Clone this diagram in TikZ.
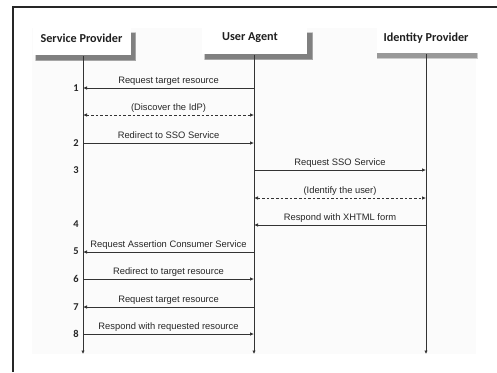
\documentclass[tikz,border=0pt]{standalone}
\usepackage{fontspec}
\setmainfont{Liberation Sans}
\newfontfamily\hdrfont{Carlito}
\usetikzlibrary{arrows.meta}
\begin{document}
\begin{tikzpicture}[x=1bp,y=-1bp,
  tip/.tip={Latex[length=4bp,width=3.6bp]},
  msg/.style={draw=black!80, line width=0.8bp, -tip},
  both/.style={draw=black!80, line width=0.8bp, dash pattern=on 2.6bp off 2bp, tip-tip},
  lifeline/.style={draw=black!80, line width=1bp, -{Latex[length=3.5bp,width=3.5bp]}},
  lbl/.style={font=\fontsize{9.4}{11}\selectfont, text=black!85, anchor=base, inner sep=0pt, yshift=5bp},
  num/.style={font=\hdrfont\bfseries\fontsize{10.5}{12}\selectfont, text=black!85, inner sep=0pt},
  htext/.style={font=\hdrfont\bfseries\fontsize{12.2}{14}\selectfont, text=black!88, inner sep=0pt},
]
\useasboundingbox (0,0) rectangle (497,372);
\fill[white] (0,0) rectangle (497,372);
% light page area
\fill[black!1.5] (32,28) rectangle (476,354);
% frame
\draw[black!85, line width=1.6bp] (13,372) -- (13,7) -- (497,7);

% header boxes with soft shadows
\fill[black!20] (35,32) rectangle (136,61);
\fill[black!35] (35.5,32.5) rectangle (135.5,60.5);
\fill[black!50] (36,33) rectangle (134.5,59.5);
\fill[white] (33,28) rectangle (131,55);

\fill[black!20] (204,32) rectangle (313,60);
\fill[black!35] (204.5,32.5) rectangle (312.5,59.5);
\fill[black!50] (205,33) rectangle (311.5,58.5);
\fill[white] (202,28) rectangle (307,54);

\fill[black!20] (377,52.5) rectangle (478,58.5);
\fill[black!40] (377,53) rectangle (477,58);
\fill[white] (377,28) rectangle (477,53);

\node[htext] (sp) at (81.5,38) {Service Provider};
\node[htext] (ua) at (250,38) {User Agent};
\node[htext] (idp) at (426,38) {Identity Provider};

% lifelines
\coordinate (sptop) at (83,56);  \coordinate (spbot) at (83,354);
\coordinate (uatop) at (254,55); \coordinate (uabot) at (254,354);
\coordinate (idtop) at (426,54); \coordinate (idbot) at (426,354);
\draw[lifeline] (sptop) -- (spbot);
\draw[lifeline] (uatop) -- (uabot);
\draw[lifeline] (idtop) -- (idbot);

\foreach \n/\y in {1/88, d1/115, 2/143, 3/170, d2/198, 4/225, 5/252, 6/279, 7/307, 8/334}{
  \coordinate (sp\n) at (83,\y);
  \coordinate (ua\n) at (254,\y);
  \coordinate (id\n) at (426,\y);
}

% messages
\draw[msg] (ua1) -- node[lbl]{Request target resource} (sp1);
\draw[both] (spd1) -- node[lbl]{(Discover the IdP)} (uad1);
\draw[msg] (sp2) -- node[lbl]{Redirect to SSO Service} (ua2);
\draw[msg] (ua3) -- node[lbl]{Request SSO Service} (id3);
\draw[both] (uad2) -- node[lbl]{(Identify the user)} (idd2);
\draw[msg] (id4) -- node[lbl]{Respond with XHTML form} (ua4);
\draw[msg] (ua5) -- node[lbl]{Request Assertion Consumer Service} (sp5);
\draw[msg] (sp6) -- node[lbl]{Redirect to target resource} (ua6);
\draw[msg] (ua7) -- node[lbl]{Request target resource} (sp7);
\draw[msg] (sp8) -- node[lbl]{Respond with requested resource} (ua8);

% step numbers
\node[num] (n1) at (76,88) {1};
\node[num] (n2) at (76,143) {2};
\node[num] (n3) at (76,170) {3};
\node[num] (n4) at (76,224) {4};
\node[num] (n5) at (76,251) {5};
\node[num] (n6) at (76,279) {6};
\node[num] (n7) at (76,307) {7};
\node[num] (n8) at (76,334) {8};
\end{tikzpicture}
\end{document}
